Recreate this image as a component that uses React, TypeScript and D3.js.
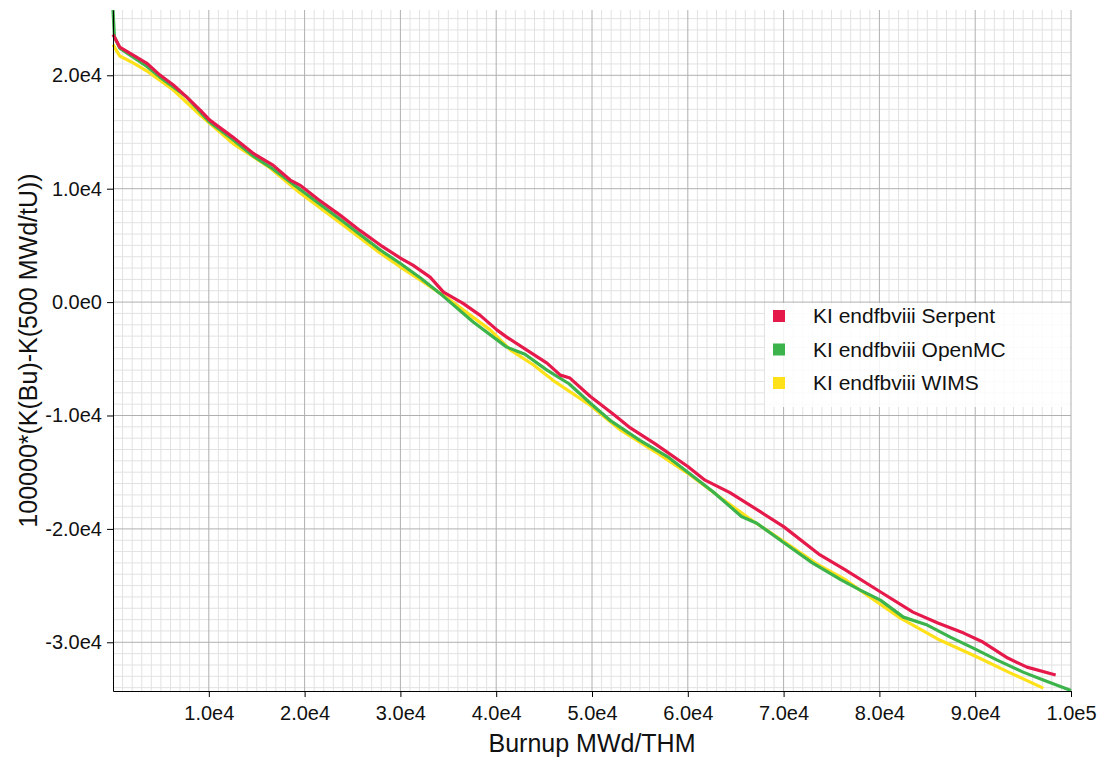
import React, { useEffect, useRef } from "react";
import * as d3 from "d3";

// Serpent
const serpentBurnup = [0, 200, 700, 2100, 3500, 4900, 6300, 7700, 9100, 10100, 12500, 14600, 16700, 18500, 19500, 21500, 23700, 25800, 27900, 30000, 31300, 33100, 34500, 36500, 38300, 40100, 41100, 43200, 45300, 46700, 47700, 49800, 52400, 54000, 56600, 60000, 61800, 64400, 67600, 70000, 73800, 76400, 80000, 83500, 86100, 88800, 90800, 93400, 95400, 98400];
const serpentValues = [23600, 23280, 22490, 21780, 21080, 20020, 19140, 18080, 16930, 16050, 14550, 13140, 12080, 10760, 10320, 9000, 7670, 6300, 5030, 3880, 3260, 2200, 880, -90, -1150, -2470, -3090, -4230, -5380, -6440, -6700, -8300, -10000, -11100, -12500, -14500, -15700, -16800, -18500, -19800, -22300, -23600, -25500, -27340, -28300, -29190, -29980, -31390, -32190, -32890];

// OpenMC
const openmcBurnup = [0, 150, 700, 2100, 3500, 4900, 6300, 7700, 9100, 10100, 12500, 14600, 16700, 18500, 19500, 23700, 27900, 30000, 32100, 34100, 37600, 41100, 43000, 45300, 47600, 49800, 52000, 55000, 58000, 60000, 62600, 65600, 67200, 70000, 73000, 76000, 78000, 80100, 82500, 85000, 87400, 89800, 92300, 95000, 97100, 100000];
const openmcValues = [25760, 23400, 22400, 21600, 20800, 19840, 18960, 18080, 16760, 15870, 14340, 12900, 11750, 10600, 9950, 7300, 4590, 3400, 2120, 790, -1760, -3970, -4600, -6000, -7200, -8900, -10500, -12200, -13700, -15000, -16700, -18900, -19500, -21200, -23000, -24500, -25400, -26280, -27780, -28480, -29540, -30510, -31570, -32630, -33330, -34250];

// WIMS
const wimsBurnup = [0, 700, 2100, 3500, 6300, 9100, 12500, 16300, 19500, 23700, 27900, 30000, 32100, 34900, 37000, 39400, 41500, 43900, 45900, 49800, 53000, 56600, 60000, 63500, 66800, 70000, 73500, 76500, 78800, 82200, 86300, 90200, 93700, 97100];
const wimsValues = [22700, 21700, 21100, 20400, 18700, 16500, 14000, 11900, 9640, 7000, 4320, 3090, 1940, 350, -970, -2470, -4230, -5550, -6880, -9100, -11300, -13200, -15100, -17300, -19300, -21100, -23100, -24500, -25900, -27870, -29800, -31300, -32720, -34040];

const seriesNames = ["KI endfbviii Serpent", "KI endfbviii OpenMC", "KI endfbviii WIMS"];
const seriesColors = ["#e6194b", "#3cb44b", "#ffe119"];

const xTicks = [10000, 20000, 30000, 40000, 50000, 60000, 70000, 80000, 90000, 100000];
const yTicks = [-30000, -20000, -10000, 0, 10000, 20000];
const xDomain = [0, 100000];
const yDomain = [-34295, 25758];

const FONT = "'Liberation Sans', Arial, sans-serif";

export default function App() {
  const svgRef = useRef<SVGSVGElement>(null);

  useEffect(() => {
    const width = 1104;
    const height = 758;
    const margin = { top: 10, right: 33, bottom: 67, left: 113 };
    const innerWidth = width - margin.left - margin.right;
    const innerHeight = height - margin.top - margin.bottom;

    d3.select(svgRef.current).selectAll("*").remove();

    const svg = d3.select(svgRef.current)
      .attr("width", width)
      .attr("height", height)
      .style("font-family", FONT);

    const g = svg.append("g")
      .attr("transform", `translate(${margin.left},${margin.top})`);

    const x = d3.scaleLinear().domain(xDomain).range([0, innerWidth]);
    const y = d3.scaleLinear().domain(yDomain).range([innerHeight, 0]);

    // minor grid
    const minorX = d3.range(1000, 100001, 1000).filter(v => v % 10000 !== 0);
    const minorY = d3.range(-34000, 25001, 1000).filter(v => v % 10000 !== 0);

    g.append("g").selectAll("line")
      .data(minorX)
      .enter()
      .append("line")
      .attr("x1", d => x(d)).attr("x2", d => x(d))
      .attr("y1", 0).attr("y2", innerHeight)
      .attr("stroke", "#e2e2e2").attr("stroke-width", 1);

    g.append("g").selectAll("line")
      .data(minorY)
      .enter()
      .append("line")
      .attr("y1", d => y(d)).attr("y2", d => y(d))
      .attr("x1", 0).attr("x2", innerWidth)
      .attr("stroke", "#e2e2e2").attr("stroke-width", 1);

    // major grid
    g.append("g").selectAll("line")
      .data(xTicks)
      .enter()
      .append("line")
      .attr("x1", d => x(d)).attr("x2", d => x(d))
      .attr("y1", 0).attr("y2", innerHeight)
      .attr("stroke", "#b0b0b0").attr("stroke-width", 1);

    g.append("g").selectAll("line")
      .data(yTicks)
      .enter()
      .append("line")
      .attr("y1", d => y(d)).attr("y2", d => y(d))
      .attr("x1", 0).attr("x2", innerWidth)
      .attr("stroke", "#b0b0b0").attr("stroke-width", 1);

    const fmt = (v: number) => d3.format(".1e")(v).replace("+", "").replace("\u2212", "-");

    // lines
    const series = [
      { xs: serpentBurnup, ys: serpentValues },
      { xs: openmcBurnup, ys: openmcValues },
      { xs: wimsBurnup, ys: wimsValues },
    ];
    const line = d3.line<[number, number]>()
      .x(d => x(d[0]))
      .y(d => y(d[1]));

    // draw WIMS first, then OpenMC, then Serpent on top
    [2, 1, 0].forEach(i => {
      const pts = series[i].xs.map((v, j) => [v, series[i].ys[j]] as [number, number]);
      g.append("path")
        .datum(pts)
        .attr("fill", "none")
        .attr("stroke", seriesColors[i])
        .attr("stroke-width", 3.2)
        .attr("stroke-linejoin", "round")
        .attr("d", line);
    });

    // axes
    const xAxis = g.append("g")
      .attr("transform", `translate(0,${innerHeight})`)
      .call(d3.axisBottom(x).tickValues(xTicks).tickFormat(d => fmt(+d)).tickSize(6).tickSizeOuter(0).tickPadding(9));
    xAxis.selectAll("text").style("font-size", "20px").style("font-family", FONT).attr("fill", "#111");

    const yAxis = g.append("g")
      .call(d3.axisLeft(y).tickValues(yTicks).tickFormat(d => fmt(+d)).tickSize(6).tickSizeOuter(0).tickPadding(5));
    yAxis.selectAll("text").style("font-size", "20px").style("font-family", FONT).attr("fill", "#111");

    // legend
    const legend = svg.append("g").attr("transform", "translate(765,303)");
    legend.append("rect")
      .attr("width", 305).attr("height", 104)
      .attr("fill", "white").attr("fill-opacity", 0.85);
    seriesNames.forEach((name, i) => {
      const cy = 13 + i * 33.5;
      legend.append("rect")
        .attr("x", 8).attr("y", cy - 6)
        .attr("width", 12).attr("height", 12)
        .attr("fill", seriesColors[i]);
      legend.append("text")
        .attr("x", 48).attr("y", cy)
        .attr("dy", "0.35em")
        .style("font-size", "21px")
        .attr("fill", "#111")
        .text(name);
    });

    // axis titles
    svg.append("text")
      .attr("x", margin.left + innerWidth / 2)
      .attr("y", 752)
      .attr("text-anchor", "middle")
      .style("font-size", "25px")
      .attr("fill", "#111")
      .text("Burnup MWd/THM");

    svg.append("text")
      .attr("transform", "rotate(-90)")
      .attr("x", -(margin.top + innerHeight / 2))
      .attr("y", 37)
      .attr("text-anchor", "middle")
      .style("font-size", "25px")
      .attr("fill", "#111")
      .text("100000*(K(Bu)-K(500 MWd/tU))");
  }, []);

  return (
    <div style={{ position: "absolute", left: 0, top: 0 }}>
      <svg ref={svgRef}></svg>
    </div>
  );
}
